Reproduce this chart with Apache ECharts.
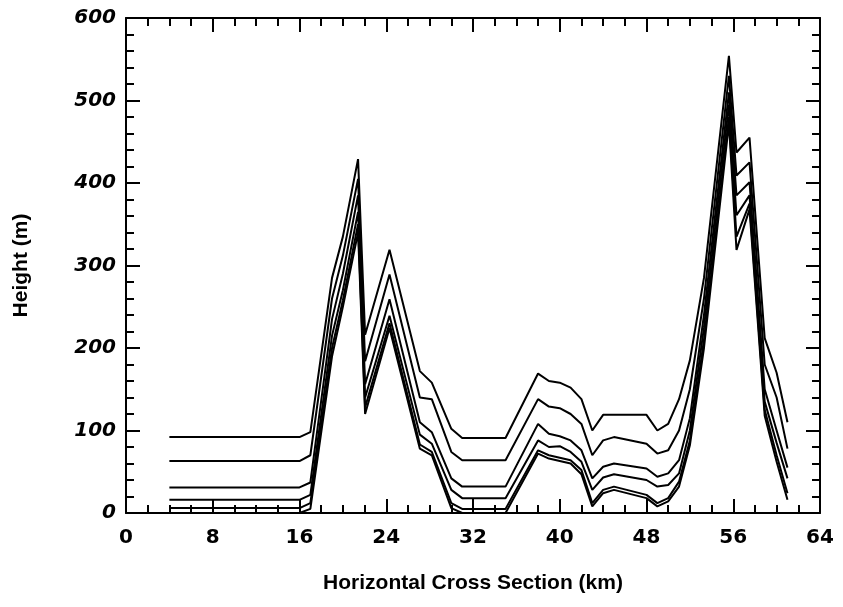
<!DOCTYPE html>
<html>
<head>
<meta charset="utf-8">
<script src="https://cdn.jsdelivr.net/npm/echarts@6/dist/echarts.min.js"></script>
<style>
  html, body { margin: 0; padding: 0; background: #fff; }
  #crossSection { width: 843px; height: 607px; }
</style>
</head>
<body>
<div id="crossSection"></div>
<script>
// grid point positions along the cross section (km)
var distance = [4, 16, 17, 19, 20, 21.4, 22.05, 24.3, 27.1, 28.2, 30, 31, 35, 38, 39, 40, 41, 42, 43, 44, 45, 48, 49, 50, 51, 52, 53.3, 55.6, 56.3, 57.5, 58.9, 60, 61];

// heights (m) of each level, top to bottom (last one is the terrain)
var level1 = [92, 92, 98, 285, 335, 429, 216, 319, 172, 158, 102, 91, 91, 169, 160, 158, 152, 138, 100, 119, 119, 119, 100, 108, 138, 185, 285, 554, 437, 455, 212, 170, 110];
var level2 = [63, 63, 70, 260, 312, 405, 184, 289, 140, 138, 74, 64, 64, 138, 129, 127, 120, 108, 70, 88, 92, 84, 72, 76, 100, 150, 260, 530, 409, 425, 180, 140, 78];
var level3 = [31, 31, 37, 235, 290, 385, 156, 259, 110, 98, 42, 32, 32, 108, 96, 93, 88, 76, 42, 56, 60, 54, 44, 48, 64, 115, 240, 510, 385, 401, 150, 100, 55];
var level4 = [16, 16, 22, 215, 270, 365, 140, 239, 95, 84, 28, 18, 18, 88, 80, 81, 74, 62, 28, 43, 47, 40, 32, 34, 48, 100, 225, 495, 361, 385, 135, 85, 42];
var level5 = [6, 6, 12, 200, 258, 350, 128, 230, 83, 74, 12, 5, 5, 76, 70, 67, 64, 52, 12, 28, 32, 22, 12, 18, 38, 88, 210, 480, 335, 375, 125, 70, 24];
var terrain = [0, 0, 5, 190, 250, 340, 120, 224, 78, 70, 6, 0, 0, 72, 66, 63, 60, 47, 8, 24, 28, 18, 8, 14, 32, 82, 200, 472, 319, 368, 118, 62, 16];

var levels = [level1, level2, level3, level4, level5, terrain];

// x ticks every 8 km, y ticks every 100 m
var xTicks = [0, 8, 16, 24, 32, 40, 48, 56, 64];
var yTicks = [0, 100, 200, 300, 400, 500, 600];

var myChart = echarts.init(document.getElementById("crossSection"));

function pairs(values) {
  var out = [];
  for (var i = 0; i < distance.length; i++) {
    out.push([distance[i], values[i]]);
  }
  return out;
}

var series = levels.map(function (lv) {
  return {
    type: "line",
    data: pairs(lv),
    symbol: "none",
    silent: true,
    lineStyle: { color: "#000", width: 2 }
  };
});

// common look of the frame axes (ticks point into the plot)
function frameAxis(extra, minorSplit) {
  var base = {
    type: "value",
    axisLine: { show: true, onZero: false, lineStyle: { color: "#000", width: 2 } },
    axisTick: { show: true, inside: true, length: 14, lineStyle: { color: "#000", width: 2 } },
    minorTick: { show: true, splitNumber: minorSplit, length: 8, lineStyle: { color: "#000", width: 2 } },
    splitLine: { show: false },
    axisLabel: { show: false }
  };
  for (var k in extra) base[k] = extra[k];
  return base;
}

var labelFont = {
  show: true,
  color: "#000",
  fontFamily: "DejaVu Sans",
  fontWeight: "bold",
  fontSize: 20
};
var nameFont = { color: "#000", fontFamily: "Liberation Sans", fontWeight: "bold", fontSize: 21 };

myChart.setOption({
  animation: false,
  backgroundColor: "#fff",
  grid: { left: 126, right: 23, top: 18, bottom: 94 },
  xAxis: [
    frameAxis({
      position: "bottom",
      min: xTicks[0],
      max: xTicks[xTicks.length - 1],
      interval: 8,
      name: "Horizontal Cross Section (km)",
      nameLocation: "middle",
      nameGap: 60,
      nameTextStyle: nameFont,
      axisLabel: Object.assign({ margin: 15 }, labelFont)
    }, 4),
    frameAxis({
      position: "top",
      min: xTicks[0],
      max: xTicks[xTicks.length - 1],
      interval: 8
    }, 4)
  ],
  yAxis: [
    frameAxis({
      position: "left",
      min: yTicks[0],
      max: yTicks[yTicks.length - 1],
      interval: 100,
      name: "Height (m)",
      nameLocation: "middle",
      nameGap: 94,
      nameTextStyle: nameFont,
      axisLabel: Object.assign({ margin: 10, fontStyle: "italic" }, labelFont)
    }, 5),
    frameAxis({
      position: "right",
      min: yTicks[0],
      max: yTicks[yTicks.length - 1],
      interval: 100
    }, 5)
  ],
  series: series
});
</script>
</body>
</html>
